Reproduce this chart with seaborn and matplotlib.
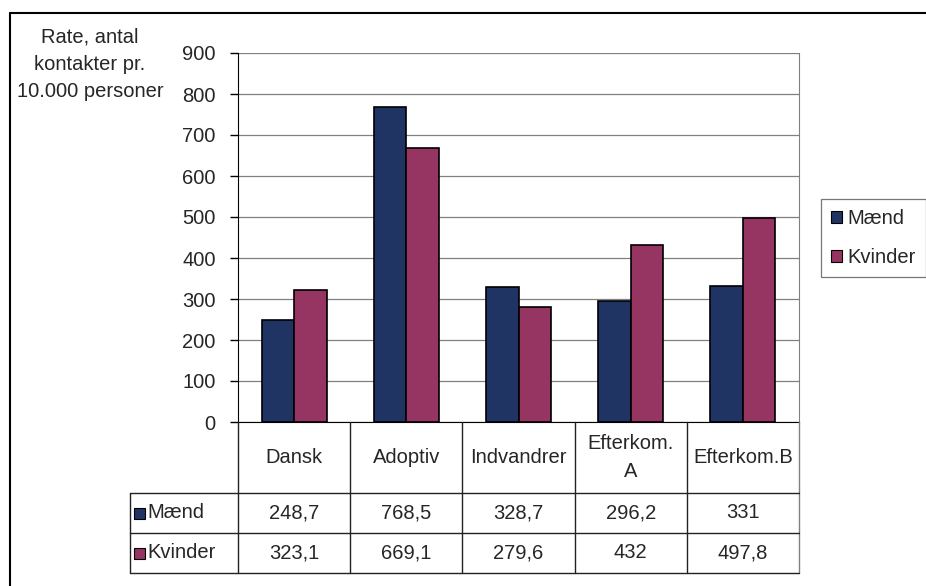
import matplotlib
matplotlib.use("Agg")
import matplotlib.pyplot as plt
import matplotlib.lines as mlines
import matplotlib.patches as mpatches
import pandas as pd
import seaborn as sns

# ── Data ──────────────────────────────────────────────────────────────────────
categories = ["Dansk", "Adoptiv", "Indvandrer", "Efterkom.\nA", "Efterkom.B"]
maend = [248.7, 768.5, 328.7, 296.2, 331]
kvinder = [323.1, 669.1, 279.6, 432, 497.8]
maend_labels = ["248,7", "768,5", "328,7", "296,2", "331"]
kvinder_labels = ["323,1", "669,1", "279,6", "432", "497,8"]
series = ["Mænd", "Kvinder"]
colors = ["#1f3462", "#963462"]

df = pd.DataFrame({
    "kategori": categories * 2,
    "rate": maend + kvinder,
    "køn": [series[0]] * 5 + [series[1]] * 5,
})

sns.set_style("white")
plt.rcParams["font.family"] = ["Liberation Sans", "DejaVu Sans"]
FS = 14.5

W, H = 926, 586
fig = plt.figure(figsize=(W / 100, H / 100), dpi=100)

def fx(px):
    return px / W

def fy(py):
    return 1 - py / H

# plot area in pixels
L, R, T, B = 238, 799, 53, 422
ax = fig.add_axes([fx(L), fy(B), fx(R - L), (B - T) / H])

sns.barplot(data=df, x="kategori", y="rate", hue="køn", order=categories,
            hue_order=series, palette=colors, width=0.58, edgecolor="black",
            linewidth=1.2, saturation=1, ax=ax, legend=False)

ax.set_ylim(0, 900)
ax.set_xlim(-0.5, 4.5)
ax.set_yticks(range(0, 901, 100))
ax.yaxis.grid(True, color="#808080", linewidth=0.9)
ax.set_axisbelow(True)
ax.set_xticks([])
ax.set_xlabel("")
ax.set_ylabel("")
ax.tick_params(axis="y", direction="out", length=6, width=1, color="black",
               labelsize=FS, pad=10, left=True)
ax.spines["top"].set_visible(False)
ax.spines["right"].set_color("#808080")
ax.spines["left"].set_color("black")
ax.spines["bottom"].set_color("black")

fig.text(fx(90), fy(64), "Rate, antal\nkontakter pr.\n10.000 personer",
         ha="center", va="center", fontsize=FS, linespacing=1.55)

# ── Data table below the plot ────────────────────────────────────────────────
col_w = (R - L) / len(categories)
row1, row2, row3 = 493, 533, 573
tab_left = 130
lc = "#222222"

def hline(x0, x1, y):
    fig.add_artist(mlines.Line2D([fx(x0), fx(x1)], [fy(y), fy(y)],
                                 color=lc, linewidth=1))

def vline(x, y0, y1, color=lc):
    fig.add_artist(mlines.Line2D([fx(x), fx(x)], [fy(y0), fy(y1)],
                                 color=color, linewidth=1))

for i in range(len(categories)):
    vline(L + i * col_w, B, row3)
vline(R, B, row3, color="#808080")
vline(tab_left, row1, row3)
for y in (row1, row2, row3):
    hline(tab_left, R, y)

for i, cat in enumerate(categories):
    cx = L + (i + 0.5) * col_w
    fig.text(fx(cx), fy((B + row1) / 2), cat, ha="center", va="center",
             fontsize=FS, linespacing=1.6)
    fig.text(fx(cx), fy((row1 + row2) / 2), maend_labels[i], ha="center",
             va="center", fontsize=FS)
    fig.text(fx(cx), fy((row2 + row3) / 2), kvinder_labels[i], ha="center",
             va="center", fontsize=FS)

for name, col, (y0, y1) in zip(series, colors, [(row1, row2), (row2, row3)]):
    ym = (y0 + y1) / 2
    fig.add_artist(mpatches.Rectangle((fx(tab_left + 4), fy(ym + 6)), fx(11), 11 / H,
                                      facecolor=col, edgecolor="black", linewidth=0.8))
    fig.text(fx(tab_left + 17), fy(ym), name, ha="left", va="center", fontsize=FS)

# ── Legend box ──────────────────────────────────────────────────────────────
handles = [mpatches.Patch(facecolor=c, edgecolor="black", linewidth=0.8, label=s)
           for s, c in zip(series, colors)]
leg = fig.legend(handles=handles, loc="upper left",
                 bbox_to_anchor=(fx(821), fy(199)), frameon=True, fancybox=False,
                 fontsize=FS, handlelength=0.55, handleheight=0.55,
                 handletextpad=0.25, labelspacing=1.0, borderpad=0.5,
                 borderaxespad=0)
leg.get_frame().set_edgecolor("#555555")
leg.get_frame().set_linewidth(0.9)

# outer frame (cropped on the right and bottom in the original)
fig.add_artist(mlines.Line2D([fx(10), fx(10)], [fy(13), 0], color="black", linewidth=1.5))
fig.add_artist(mlines.Line2D([fx(10), 1], [fy(13), fy(13)], color="black", linewidth=1.5))

fig.savefig("out.png", dpi=100)
plt.close(fig)
